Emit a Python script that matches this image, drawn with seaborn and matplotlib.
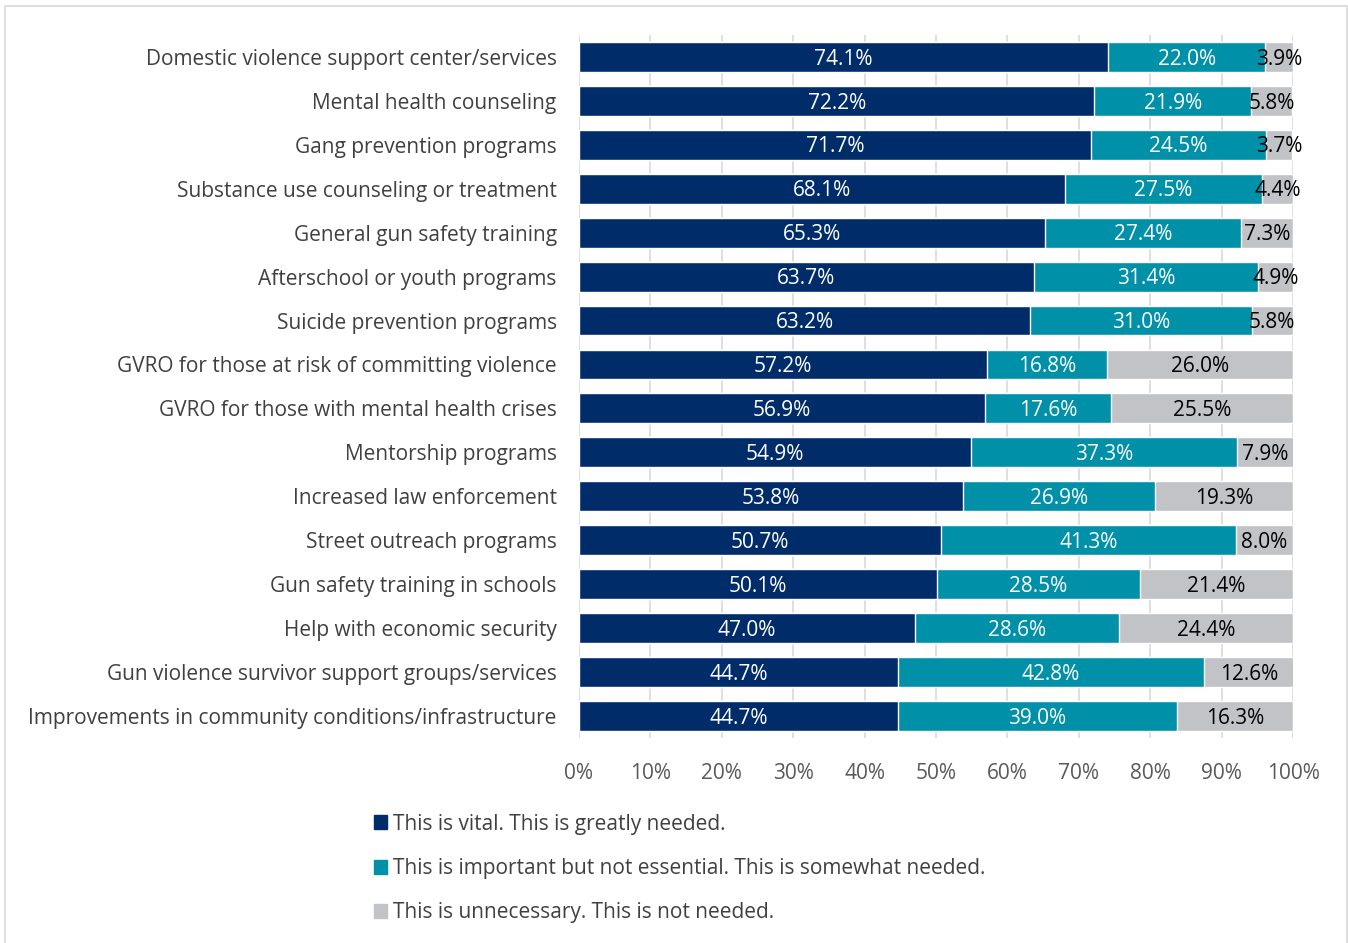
import matplotlib
matplotlib.use("Agg")
import matplotlib.pyplot as plt
import seaborn as sns
import pandas as pd
import numpy as np
from matplotlib.patches import Rectangle

categories = [
    "Domestic violence support center/services",
    "Mental health counseling",
    "Gang prevention programs",
    "Substance use counseling or treatment",
    "General gun safety training",
    "Afterschool or youth programs",
    "Suicide prevention programs",
    "GVRO for those at risk of committing violence",
    "GVRO for those with mental health crises",
    "Mentorship programs",
    "Increased law enforcement",
    "Street outreach programs",
    "Gun safety training in schools",
    "Help with economic security",
    "Gun violence survivor support groups/services",
    "Improvements in community conditions/infrastructure",
]
vital = [74.1, 72.2, 71.7, 68.1, 65.3, 63.7, 63.2, 57.2, 56.9, 54.9, 53.8, 50.7, 50.1, 47.0, 44.7, 44.7]
important = [22.0, 21.9, 24.5, 27.5, 27.4, 31.4, 31.0, 16.8, 17.6, 37.3, 26.9, 41.3, 28.5, 28.6, 42.8, 39.0]
unnecessary = [3.9, 5.8, 3.7, 4.4, 7.3, 4.9, 5.8, 26.0, 25.5, 7.9, 19.3, 8.0, 21.4, 24.4, 12.6, 16.3]
series_names = [
    "This is vital. This is greatly needed.",
    "This is important but not essential. This is somewhat needed.",
    "This is unnecessary. This is not needed.",
]
colors = ["#002D6A", "#0090A8", "#C1C3C6"]
xticks = [0, 10, 20, 30, 40, 50, 60, 70, 80, 90, 100]

sns.set_theme(style="white")
plt.rcParams["font.family"] = ["Open Sans", "DejaVu Sans"]

df = pd.DataFrame({
    "category": categories,
    "vital": vital,
    "important": important,
    "unnecessary": unnecessary,
})
df["c1"] = df["vital"]
df["c2"] = df["vital"] + df["important"]
df["c3"] = df["c2"] + df["unnecessary"]

fig = plt.figure(figsize=(13.48, 9.43), dpi=100)
ax = fig.add_axes([0.4295, 0.2174, 0.5297, 0.7456])

for col, colr in zip(["c3", "c2", "c1"], colors[::-1]):
    sns.barplot(data=df, y="category", x=col, color=colr, orient="h",
                width=0.68, ax=ax, saturation=1, zorder=2)

ax.set_xlim(0, 100)
ax.set_ylim(len(categories) - 0.5, -0.5)
ax.set_xticks(xticks)
ax.set_xticklabels([f"{t}%" for t in xticks], fontsize=15, color="#595959")
ax.tick_params(axis="y", labelsize=15, labelcolor="#404040", length=0, pad=16)
ax.tick_params(axis="x", length=0, pad=18)
ax.set_xlabel("")
ax.set_ylabel("")
ax.grid(axis="x", color="#D9D9D9", linewidth=1.2, zorder=0)
ax.set_axisbelow(True)
for s in ax.spines.values():
    s.set_visible(False)

fs = 15
dy = 0.05
for i in range(len(categories)):
    v, im, u = vital[i], important[i], unnecessary[i]
    ax.text(v / 2, i + dy, f"{v:.1f}%", ha="center", va="center", color="white", fontsize=fs, zorder=5)
    ax.text(v + im / 2, i + dy, f"{im:.1f}%", ha="center", va="center", color="white", fontsize=fs, zorder=5)
    ax.text(v + im + u / 2, i + dy, f"{u:.1f}%", ha="center", va="center", color="black", fontsize=fs, zorder=5)

handles = [Rectangle((0, 0), 1, 1, color=c) for c in colors]
leg = fig.legend(handles, series_names, loc="upper left", bbox_to_anchor=(0.2633, 0.157),
                 frameon=False, fontsize=15, handlelength=0.65, handleheight=0.65,
                 handletextpad=0.3, labelspacing=1.12, labelcolor="#404040")

fig.patches.append(Rectangle((0.004, -0.01), 0.995, 1.004, transform=fig.transFigure,
                             fill=False, edgecolor="#D9D9D9", linewidth=1.2))

fig.savefig("out.png", dpi=100, facecolor="white")
